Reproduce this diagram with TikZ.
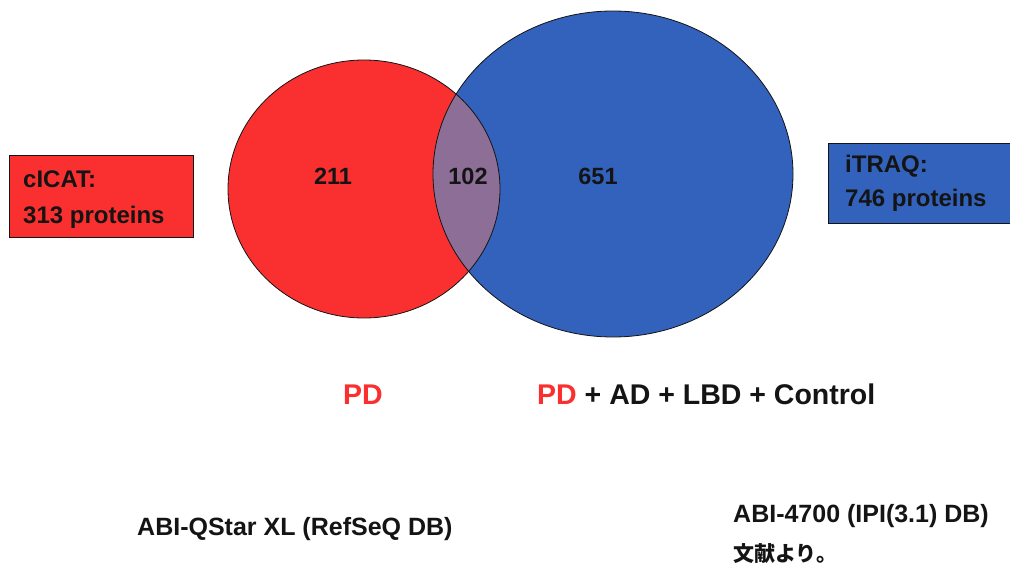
\documentclass[tikz,border=0pt]{standalone}
\usepackage{fontspec}
\setmainfont{Liberation Sans}
\newfontfamily\jpfont{Noto Sans CJK JP}
\definecolor{setred}{RGB}{250,48,48}
\definecolor{setblue}{RGB}{50,98,188}
\definecolor{overlap}{RGB}{140,110,150}
\definecolor{inkdark}{RGB}{20,20,20}
\begin{document}
\begin{tikzpicture}[x=1pt,y=-1pt,
  setlabel/.style={font=\fontsize{24}{28}\selectfont\bfseries,text=inkdark,inner sep=0pt,anchor=base west},
  countlabel/.style={font=\fontsize{23.5}{26}\selectfont\bfseries,text=inkdark,inner sep=0pt,anchor=base},
  grouplabel/.style={font=\fontsize{28.5}{32}\selectfont\bfseries,text=inkdark,inner sep=0pt,anchor=base west},
  notelabel/.style={font=\fontsize{25}{28}\selectfont\bfseries,text=inkdark,inner sep=0pt,anchor=base west},
  infobox/.style={draw=inkdark,line width=1pt,anchor=north west,inner sep=0pt}]
\useasboundingbox (0,0) rectangle (1010,575);
\fill[white] (0,0) rectangle (1010,575);

% the two sets
\fill[setred] (364,189) ellipse[x radius=136,y radius=129];
\fill[setblue] (613,174) ellipse[x radius=180,y radius=163];
\begin{scope}
  \clip (364,189) ellipse[x radius=136,y radius=129];
  \fill[overlap] (613,174) ellipse[x radius=180,y radius=163];
\end{scope}
\draw[inkdark,line width=0.8pt] (364,189) ellipse[x radius=136,y radius=129];
\draw[inkdark,line width=0.8pt] (613,174) ellipse[x radius=180,y radius=163];

% counts in each region
\node[countlabel] (onlyred) at (333,185) {211};
\node[countlabel] (both) at (468,185) {102};
\node[countlabel] (onlyblue) at (598,185) {651};

% method boxes
\node[infobox,fill=setred,minimum width=184pt,minimum height=82pt] (icat) at (9,155) {};
\node[setlabel] (icatname) at (23,188) {cICAT:};
\node[setlabel] (icatcount) at (23,223) {313 proteins};

\node[infobox,fill=setblue,minimum width=200pt,minimum height=80pt] (itraq) at (828,143) {};
\node[setlabel] (itraqname) at (845,173) {iTRAQ:};
\node[setlabel] (itraqcount) at (845,207) {746 proteins};

% sample groups
\node[grouplabel,text=setred] (pdleft) at (343,404) {PD};
\node[grouplabel] (pdall) at (537,404) {\textcolor{setred}{PD} + AD + LBD + Control};

% instruments
\node[notelabel] (qstar) at (137,535) {ABI-QStar XL (RefSeQ DB)};
\node[notelabel] (abi4700) at (733,522) {ABI-4700 (IPI(3.1) DB)};
\node[notelabel,font=\jpfont\fontsize{21}{24}\selectfont\bfseries] (source) at (733,561) {文献より。};
\end{tikzpicture}
\end{document}
